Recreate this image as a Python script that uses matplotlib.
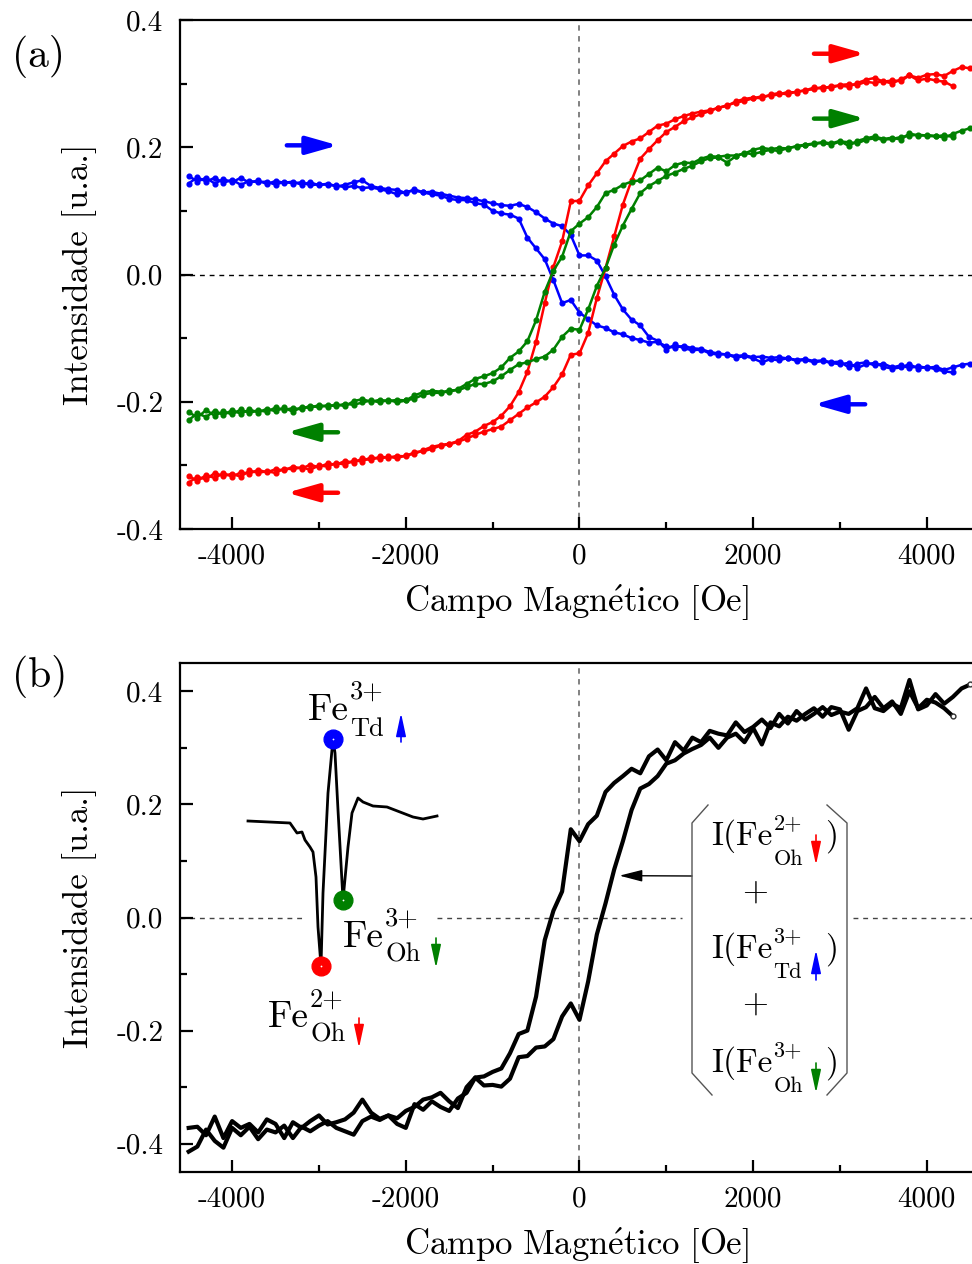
import numpy as np
import matplotlib
matplotlib.use("Agg")
import matplotlib.pyplot as plt
from matplotlib.lines import Line2D
from matplotlib.ticker import FixedLocator, FixedFormatter

plt.rcParams.update({
    "font.family": "cmr10",
    "mathtext.fontset": "cm",
    "axes.unicode_minus": False,
    "axes.linewidth": 1.6,
})

# ---------------------------------------------------------------- data
# field grid of the XMCD hysteresis scans (Oe)
campo = np.arange(-4500, 4501, 100)
campo_ida = campo[:89]          # increasing-field branch stops at 4300 Oe

# Fe2+ Oh (red)
fe2oh_volta = [-0.327, -0.318, -0.322, -0.312, -0.317, -0.313, -0.318, -0.308, -0.312, -0.309,
               -0.312, -0.305, -0.306, -0.303, -0.307, -0.300, -0.302, -0.296, -0.299, -0.292,
               -0.294, -0.287, -0.290, -0.286, -0.289, -0.284, -0.282, -0.276, -0.271, -0.268,
               -0.266, -0.262, -0.252, -0.247, -0.238, -0.232, -0.222, -0.207, -0.185, -0.153,
               -0.106, -0.045, 0.012, 0.052, 0.115, 0.116, 0.140, 0.159, 0.178, 0.190,
               0.202, 0.209, 0.214, 0.224, 0.234, 0.237, 0.244, 0.249, 0.253, 0.256,
               0.258, 0.262, 0.265, 0.272, 0.276, 0.278, 0.277, 0.283, 0.285, 0.283,
               0.288, 0.289, 0.294, 0.292, 0.296, 0.297, 0.295, 0.301, 0.306, 0.309,
               0.303, 0.305, 0.304, 0.313, 0.309, 0.314, 0.315, 0.312, 0.320, 0.326, 0.324]
fe2oh_ida = [-0.316, -0.325, -0.315, -0.320, -0.312, -0.318, -0.311, -0.313, -0.307, -0.311,
             -0.306, -0.308, -0.302, -0.305, -0.299, -0.303, -0.297, -0.299, -0.293, -0.296,
             -0.289, -0.292, -0.286, -0.288, -0.285, -0.286, -0.279, -0.278, -0.274, -0.269,
             -0.267, -0.263, -0.258, -0.252, -0.247, -0.243, -0.239, -0.229, -0.219, -0.209,
             -0.201, -0.192, -0.177, -0.157, -0.126, -0.124, -0.092, -0.037, 0.010, 0.060,
             0.110, 0.148, 0.182, 0.197, 0.211, 0.224, 0.232, 0.241, 0.247, 0.252,
             0.257, 0.262, 0.266, 0.270, 0.273, 0.277, 0.280, 0.281, 0.283, 0.287,
             0.286, 0.290, 0.291, 0.295, 0.293, 0.298, 0.299, 0.298, 0.303, 0.301,
             0.304, 0.300, 0.307, 0.313, 0.305, 0.308, 0.305, 0.303, 0.296]

# Fe3+ Oh (green)
fe3oh_volta = [-0.229, -0.218, -0.224, -0.214, -0.221, -0.213, -0.219, -0.212, -0.217, -0.211,
               -0.215, -0.209, -0.216, -0.208, -0.210, -0.205, -0.208, -0.204, -0.207, -0.199,
               -0.196, -0.200, -0.197, -0.199, -0.197, -0.198, -0.190, -0.185, -0.183, -0.184,
               -0.185, -0.180, -0.172, -0.164, -0.160, -0.155, -0.146, -0.131, -0.121, -0.105,
               -0.072, -0.027, 0.006, 0.028, 0.068, 0.080, 0.090, 0.106, 0.128, 0.133,
               0.141, 0.146, 0.148, 0.158, 0.168, 0.162, 0.172, 0.176, 0.175, 0.182,
               0.186, 0.185, 0.187, 0.187, 0.190, 0.196, 0.199, 0.197, 0.199, 0.198,
               0.202, 0.204, 0.206, 0.208, 0.206, 0.210, 0.202, 0.210, 0.214, 0.217,
               0.213, 0.215, 0.212, 0.222, 0.218, 0.219, 0.218, 0.215, 0.221, 0.226, 0.230]
fe3oh_ida = [-0.216, -0.225, -0.213, -0.222, -0.215, -0.220, -0.212, -0.218, -0.213, -0.216,
             -0.209, -0.213, -0.210, -0.212, -0.206, -0.209, -0.205, -0.207, -0.203, -0.205,
             -0.201, -0.198, -0.201, -0.197, -0.201, -0.198, -0.195, -0.189, -0.186, -0.186,
             -0.182, -0.182, -0.177, -0.172, -0.172, -0.168, -0.160, -0.150, -0.141, -0.138,
             -0.133, -0.129, -0.118, -0.098, -0.085, -0.087, -0.055, -0.018, 0.010, 0.047,
             0.077, 0.103, 0.128, 0.139, 0.147, 0.155, 0.160, 0.166, 0.171, 0.178,
             0.183, 0.184, 0.176, 0.186, 0.191, 0.189, 0.193, 0.196, 0.194, 0.199,
             0.201, 0.203, 0.205, 0.207, 0.204, 0.209, 0.208, 0.206, 0.212, 0.214,
             0.212, 0.213, 0.216, 0.218, 0.220, 0.218, 0.217, 0.219, 0.216]

# Fe3+ Td (blue)
fe3td_volta = [0.143, 0.153, 0.146, 0.152, 0.144, 0.149, 0.141, 0.147, 0.145, 0.146,
               0.141, 0.146, 0.143, 0.145, 0.140, 0.142, 0.141, 0.140, 0.137, 0.139,
               0.136, 0.137, 0.134, 0.131, 0.126, 0.130, 0.132, 0.129, 0.126, 0.124,
               0.119, 0.117, 0.117, 0.112, 0.110, 0.100, 0.096, 0.094, 0.088, 0.058,
               0.041, 0.024, -0.009, -0.045, -0.040, -0.060, -0.070, -0.080, -0.084, -0.091,
               -0.094, -0.100, -0.103, -0.107, -0.106, -0.113, -0.115, -0.112, -0.116, -0.117,
               -0.122, -0.124, -0.126, -0.128, -0.127, -0.130, -0.129, -0.131, -0.130, -0.132,
               -0.134, -0.133, -0.136, -0.135, -0.138, -0.137, -0.146, -0.140, -0.138, -0.143,
               -0.140, -0.146, -0.143, -0.147, -0.144, -0.147, -0.145, -0.150, -0.146, -0.142, -0.140]
fe3td_ida = [0.155, 0.146, 0.152, 0.143, 0.150, 0.145, 0.152, 0.144, 0.148, 0.142,
             0.147, 0.144, 0.146, 0.141, 0.145, 0.140, 0.143, 0.138, 0.141, 0.145,
             0.148, 0.139, 0.136, 0.134, 0.133, 0.128, 0.134, 0.129, 0.130, 0.127,
             0.124, 0.121, 0.120, 0.118, 0.115, 0.112, 0.109, 0.108, 0.111, 0.106,
             0.098, 0.088, 0.080, 0.076, 0.062, 0.030, 0.030, 0.022, -0.003, -0.032,
             -0.055, -0.071, -0.080, -0.098, -0.104, -0.118, -0.110, -0.116, -0.119, -0.118,
             -0.124, -0.126, -0.125, -0.131, -0.128, -0.132, -0.138, -0.133, -0.135, -0.131,
             -0.136, -0.134, -0.138, -0.136, -0.139, -0.141, -0.139, -0.147, -0.141, -0.139,
             -0.145, -0.148, -0.146, -0.141, -0.148, -0.145, -0.149, -0.152, -0.154]

# total intensity (black)
total_volta = [-0.372, -0.370, -0.385, -0.352, -0.390, -0.360, -0.372, -0.365, -0.380, -0.357,
               -0.365, -0.390, -0.362, -0.372, -0.360, -0.350, -0.366, -0.362, -0.357, -0.345,
               -0.322, -0.345, -0.356, -0.350, -0.355, -0.342, -0.335, -0.322, -0.318, -0.310,
               -0.325, -0.337, -0.300, -0.283, -0.281, -0.273, -0.267, -0.240, -0.206, -0.200,
               -0.140, -0.040, 0.012, 0.046, 0.156, 0.135, 0.165, 0.180, 0.222, 0.238,
               0.250, 0.263, 0.255, 0.285, 0.297, 0.278, 0.310, 0.295, 0.318, 0.310,
               0.330, 0.325, 0.322, 0.345, 0.328, 0.337, 0.350, 0.335, 0.360, 0.343,
               0.365, 0.350, 0.360, 0.372, 0.358, 0.364, 0.360, 0.370, 0.405, 0.370,
               0.365, 0.378, 0.370, 0.420, 0.368, 0.375, 0.395, 0.378, 0.390, 0.405, 0.412]
total_ida = [-0.414, -0.405, -0.375, -0.395, -0.407, -0.372, -0.385, -0.370, -0.392, -0.375,
             -0.380, -0.368, -0.390, -0.370, -0.378, -0.368, -0.360, -0.372, -0.378, -0.384,
             -0.360, -0.352, -0.358, -0.350, -0.365, -0.372, -0.330, -0.340, -0.325, -0.335,
             -0.342, -0.320, -0.310, -0.283, -0.297, -0.296, -0.299, -0.285, -0.247, -0.245,
             -0.230, -0.228, -0.215, -0.175, -0.152, -0.181, -0.113, -0.030, 0.025, 0.085,
             0.135, 0.190, 0.228, 0.236, 0.250, 0.272, 0.278, 0.290, 0.298, 0.305,
             0.318, 0.300, 0.318, 0.325, 0.310, 0.335, 0.306, 0.345, 0.338, 0.355,
             0.348, 0.360, 0.370, 0.355, 0.372, 0.368, 0.332, 0.365, 0.372, 0.390,
             0.370, 0.382, 0.360, 0.400, 0.370, 0.385, 0.380, 0.370, 0.356]

# XMCD spectrum at the Fe L3 edge (inset)
energia = [700.8, 705.0, 705.7, 706.2, 706.5, 707.0, 707.3, 707.6, 707.8, 708.1,
           708.3, 708.8, 709.3, 709.5, 709.8, 710.3, 710.8, 711.2, 711.8, 712.3,
           713.3, 714.7, 716.0, 717.3, 718.3, 719.7]
dicroismo = [0.00, -0.02, -0.12, -0.11, -0.19, -0.26, -0.31, -0.56, -1.06, -1.45,
             -0.72, 0.28, 0.82, 0.68, 0.11, -0.79, -0.26, 0.08, 0.23, 0.19,
             0.15, 0.14, 0.09, 0.04, 0.02, 0.05]
picos = {"red": 9, "blue": 12, "green": 15}   # indices of the three sites

xticks = [-4000, -2000, 0, 2000, 4000]
xtick_labels = ["-4000", "-2000", "0", "2000", "4000"]
yticks = [-0.4, -0.2, 0.0, 0.2, 0.4]
ytick_labels = ["-0.4", "-0.2", "0.0", "0.2", "0.4"]

VERDE = "#008000"
W, H = 972, 1264


def fig_xy(px, py):
    return (px / W, 1 - py / H)


fig = plt.figure(figsize=(W / 100, H / 100), dpi=100)
renderer = fig.canvas.get_renderer()
ax_a = fig.add_axes([180 / W, 1 - 529 / H, 792 / W, 509 / H])
ax_b = fig.add_axes([180 / W, 1 - 1172 / H, 792 / W, 509 / H])


def style_axes(ax, ylim):
    ax.set_xlim(-4600, 4520)
    ax.set_ylim(*ylim)
    ax.xaxis.set_major_locator(FixedLocator(xticks))
    ax.xaxis.set_major_formatter(FixedFormatter(xtick_labels))
    ax.xaxis.set_minor_locator(FixedLocator([-3000, -1000, 1000, 3000]))
    ax.yaxis.set_major_locator(FixedLocator(yticks))
    ax.yaxis.set_major_formatter(FixedFormatter(ytick_labels))
    ax.yaxis.set_minor_locator(FixedLocator([-0.3, -0.1, 0.1, 0.3]))
    ax.tick_params(which="both", direction="in", top=False, right=False,
                   width=1.6, labelsize=21)
    ax.tick_params(which="major", length=9)
    ax.tick_params(which="minor", length=5)
    ax.tick_params(axis="y", pad=12)
    ax.tick_params(axis="x", pad=10)
    ax.spines["right"].set_visible(False)
    ax.set_ylabel("Intensidade [u.a.]", fontsize=25)
    ax.set_xlabel(r"$\mathrm{Campo\ Magn\acute{e}tico\ [Oe]}$", fontsize=25)
    ax.yaxis.set_label_coords(-0.105, 0.5)
    ax.xaxis.set_label_coords(0.5, -0.105)


# ---------------------------------------------------------------- panel (a)
style_axes(ax_a, (-0.4, 0.4))
ax_a.axhline(0, color="black", lw=1.0, ls=(0, (3.5, 3.5)), zorder=1)
ax_a.axvline(0, color="#777777", lw=1.3, ls=(0, (3, 3)), zorder=1)

series_a = [("blue", fe3td_volta, fe3td_ida),
            ("red", fe2oh_volta, fe2oh_ida),
            (VERDE, fe3oh_volta, fe3oh_ida)]
for cor, volta, ida in series_a:
    ax_a.plot(campo, volta, color=cor, lw=1.8, marker="o", ms=3.4, zorder=3)
    ax_a.plot(campo_ida, ida, color=cor, lw=1.8, marker="o", ms=3.4, zorder=3)

# sweep-direction arrows
setas = [("blue", -3370, -2780, 0.203), ("red", 2700, 3290, 0.347),
         (VERDE, 2700, 3290, 0.245), ("blue", 3290, 2700, -0.204),
         (VERDE, -2780, -3370, -0.248), ("red", -2780, -3370, -0.343)]
for cor, x0, x1, y in setas:
    ax_a.annotate("", xy=(x1, y), xytext=(x0, y),
                  arrowprops=dict(arrowstyle="-|>,head_length=0.95,head_width=0.27",
                                  mutation_scale=20, color=cor, lw=3.2,
                                  shrinkA=0, shrinkB=0), zorder=4)

fig.text(12 / W, 1 - 56 / H, "(a)", fontsize=30, ha="left", va="center")
fig.text(12 / W, 1 - 676 / H, "(b)", fontsize=30, ha="left", va="center")

# ---------------------------------------------------------------- panel (b)
style_axes(ax_b, (-0.45, 0.45))
for x0, x1 in [(0.0, 0.154), (0.3245, 0.634), (0.85, 1.0)]:
    ax_b.axhline(0, xmin=x0, xmax=x1, color="#444444", lw=1.0,
                 ls=(0, (3.5, 3.5)), zorder=1)
ax_b.axvline(0, color="#777777", lw=1.3, ls=(0, (3, 3)), zorder=1)

ax_b.plot(campo, total_volta, color="black", lw=3.0, zorder=3)
ax_b.plot(campo_ida, total_ida, color="black", lw=3.0, zorder=3)
ax_b.plot([campo[-1], campo_ida[-1]], [total_volta[-1], total_ida[-1]],
          ls="none", marker="o", ms=3.5, mfc="white", mec="#333333", mew=1.0, zorder=4)

# bracket with the sum of the three contributions
pen = dict(color="#555555", lw=1.0)
for xs, ys in [([708, 692, 692, 712], [805, 823, 1073, 1095]),
               ([827, 847, 847, 827], [805, 823, 1073, 1095])]:
    pts = [fig_xy(x, y) for x, y in zip(xs, ys)]
    fig.add_artist(Line2D([p[0] for p in pts], [p[1] for p in pts],
                          transform=fig.transFigure, **pen))

ax_b.annotate("", xy=(460, 0.074), xycoords="data",
              xytext=fig_xy(692, 876), textcoords="figure fraction",
              arrowprops=dict(arrowstyle="-|>,head_length=1.4,head_width=0.36",
                              mutation_scale=10, color="black", lw=1.0,
                              shrinkA=0, shrinkB=0))


def spin_arrow(px, y_tail, y_tip, cor):
    fig.add_artist(plt.Annotation(
        "", xy=fig_xy(px, y_tip), xycoords="figure fraction",
        xytext=fig_xy(px, y_tail), textcoords="figure fraction",
        arrowprops=dict(arrowstyle="-|>,head_length=1.4,head_width=0.3",
                        mutation_scale=10, color=cor, lw=1.2,
                        shrinkA=0, shrinkB=0)))


def ion(px, base, main, sup, sub, size, ssize, rise, drop, gap=1):
    """Write main text with a stacked superscript and subscript after it."""
    t = fig.text(*fig_xy(px, base), main, fontsize=size, ha="left", va="baseline")
    bb = t.get_window_extent(renderer)
    x_end = bb.x1 + gap
    fig.text(*fig_xy(x_end, base - rise), sup, fontsize=ssize,
             ha="left", va="baseline")
    s = fig.text(*fig_xy(x_end, base + drop), sub, fontsize=ssize,
                 ha="left", va="baseline")
    return s.get_window_extent(renderer).x1


linhas = [("2+", "Oh", 845, "red", 835, 865),
          ("3+", "Td", 958, "blue", 980, 950),
          ("3+", "Oh", 1072, VERDE, 1063, 1093)]
for sup, sub, base, cor, y0, y1 in linhas:
    ion(711, base, "I(Fe", sup, sub, 24, 16, 16, 20)
    fig.text(*fig_xy(825, base), ")", fontsize=24, ha="left", va="baseline")
    spin_arrow(816, y0, y1, cor)
for yc in (892, 1004):
    fig.text(*fig_xy(755, yc), r"$+$", fontsize=24, ha="center", va="center")

# inset: XMCD spectrum with the three site contributions
ax_in = fig.add_axes([240 / W, 1 - 985 / H, 205 / W, 260 / H], zorder=5)
ax_in.set_xlim(700, 720.5)
ax_in.set_ylim(-1.64, 0.96)
ax_in.axis("off")
ax_in.plot(energia, dicroismo, color="black", lw=2.0)
for cor, i in picos.items():
    ax_in.plot(energia[i], dicroismo[i], "o", color=cor if cor != "green" else VERDE, ms=13.5)
    ax_in.plot(energia[i], dicroismo[i], "o", color="white", ms=1.3, mew=0)

rotulos = [("3+", "Td", 308, 720, "blue", 401, 742, 713, 21, 16),
           ("3+", "Oh", 343, 947, VERDE, 436, 938, 968, 21, 15),
           ("2+", "Oh", 268, 1027, "red", 359, 1018, 1048, 20, 14)]
for sup, sub, px, base, cor, ax_x, y0, y1, rise, drop in rotulos:
    ion(px, base, "Fe", sup, sub, 27, 19, rise, drop)
    spin_arrow(ax_x, y0, y1, cor)

fig.savefig("out.png", dpi=100)
